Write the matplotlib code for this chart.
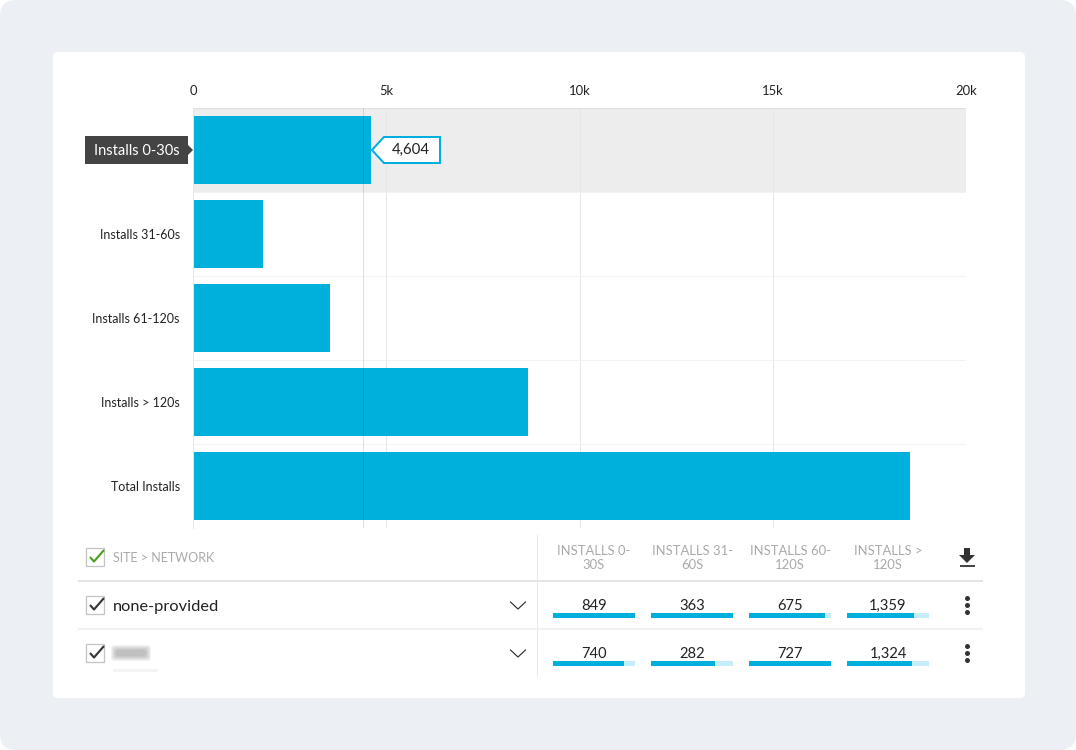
import matplotlib
matplotlib.use("Agg")
import matplotlib.pyplot as plt
from matplotlib.patches import FancyBboxPatch, Rectangle, Polygon

plt.rcParams['font.family'] = ['Lato', 'DejaVu Sans']

categories = ['Installs 0-30s', 'Installs 31-60s', 'Installs 61-120s', 'Installs > 120s', 'Total Installs']
installs = [4604, 1800, 3540, 8670, 18550]
x_ticks = [0, 5000, 10000, 15000, 20000]
x_labels = ['0', '5k', '10k', '15k', '20k']
hover_value = 4390

columns = ['INSTALLS 0-\n30S', 'INSTALLS 31-\n60S', 'INSTALLS 60-\n120S', 'INSTALLS >\n120S']
rows = ['none-provided', '']
row_values = [[849, 363, 675, 1359], [740, 282, 727, 1324]]
column_max = [849, 363, 727, 1670]

BLUE = '#00b0dc'
DARK = '#222222'
W, H = 1076, 750
PX = 0.72  # one pixel in points

fig = plt.figure(figsize=(W / 100, H / 100), dpi=100, facecolor='white')

# page background, in pixels
bg = fig.add_axes([0, 0, 1, 1], zorder=1)
bg.set_xlim(0, W)
bg.set_ylim(H, 0)
bg.axis('off')
bg.add_patch(FancyBboxPatch((0, 0), W, H, boxstyle='round,pad=0,rounding_size=16', fc='#eceff3', ec='none'))
bg.add_patch(FancyBboxPatch((53, 52), 972, 646, boxstyle='round,pad=0,rounding_size=5', fc='white', ec='none'))
# hovered label, under the tick label
bg.add_patch(Polygon([(85, 136), (188, 136), (188, 145), (193, 150), (188, 155), (188, 164), (85, 164)],
                     fc='#444444', ec='none'))

# main chart
ax = fig.add_axes([193 / W, 1 - 528 / H, 773 / W, 420 / H], zorder=2)
ax.patch.set_alpha(0)
ax.set_xlim(0, 20000)
ax.set_ylim(4.5, -0.5)
ax.axhspan(-0.5, 0.5, color='#ededed', lw=0, zorder=0)
for i in range(1, 5):
    ax.axhline(i - 0.5, color='#f3f3f3', lw=PX, zorder=1)
ax.axhline(-0.5, color='#e0e0e0', lw=2 * PX, zorder=1)
ax.grid(axis='x', color='#e6e6e6', lw=PX)
ax.set_axisbelow(True)
ax.barh(range(len(installs)), installs, height=68 / 84, color=BLUE, zorder=2)
ax.axvline(hover_value, color='black', alpha=0.12, lw=PX, zorder=3)
ax.set_xticks(x_ticks, x_labels)
ax.xaxis.tick_top()
ax.tick_params(axis='x', length=0, pad=8, labelsize=9.4, labelcolor=DARK)
ax.set_yticks(range(len(categories)), categories)
ax.tick_params(axis='y', length=0, pad=9.5, labelsize=9, labelcolor=DARK)
for s in ax.spines.values():
    s.set_visible(False)
ax.spines['left'].set_visible(True)
ax.spines['left'].set_color('#e6e6e6')
ax.spines['left'].set_linewidth(PX)
ax.get_yticklabels()[0].set_color('white')
ax.get_yticklabels()[0].set_fontsize(10.5)

# table and callout on top of everything
tb = fig.add_axes([0, 0, 1, 1], zorder=3)
tb.set_xlim(0, W)
tb.set_ylim(H, 0)
tb.axis('off')
tb.patch.set_alpha(0)

tip = 193 + installs[0] / 20000 * 773
tb.add_patch(Polygon([(tip + 1, 150), (tip + 13, 137), (440, 137), (440, 163), (tip + 13, 163)],
                     fc='white', ec=BLUE, lw=2 * PX))
tb.text(411, 150, f'{installs[0]:,}', ha='center', va='center', fontsize=10.8, color=DARK)

tb.plot([78, 983], [580.5, 580.5], color='#e4e4e4', lw=2 * PX, solid_capstyle='butt')
tb.plot([78, 983], [629, 629], color='#ededed', lw=1.5 * PX, solid_capstyle='butt')
tb.plot([536.5, 536.5], [534, 676], color='#e8e8e8', lw=PX, solid_capstyle='butt')


def checkbox(x, y, color):
    tb.add_patch(Rectangle((x, y), 18, 18, fc='white', ec='#c4c4c4', lw=1.3 * PX))
    tb.plot([x + 4, x + 8, x + 18], [y + 9, y + 13.5, y + 2], color=color, lw=1.5, solid_capstyle='butt')


checkbox(86, 548, '#4a9e1c')
tb.text(113, 558.5, 'SITE > NETWORK', fontsize=9, color='#aaaaaa', va='center')

col_x = [553, 651, 749, 847]
col_w = 82
row_y = [605, 653]
for x, label in zip(col_x, columns):
    tb.text(x + col_w / 2, 558, label, fontsize=9.4, color='#aaaaaa', ha='center', va='center', linespacing=1.15)

for y, name, vals in zip(row_y, rows, row_values):
    checkbox(86, y - 9, '#333333')
    tb.text(113, y + 1.5, name, fontsize=11.8, color=DARK, va='center')
    tb.plot([510.5, 518, 525.5], [y - 3, y + 4, y - 3], color='#333333', lw=PX * 1.2)
    for x, v, vmax in zip(col_x, vals, column_max):
        tb.text(x + col_w / 2, y + 1, f'{v:,}', fontsize=10.6, color=DARK, ha='center', va='center')
        tb.add_patch(Rectangle((x, y + 8), col_w, 4.5, fc='#c4eef9', ec='none'))
        tb.add_patch(Rectangle((x, y + 8), col_w * v / vmax, 4.5, fc=BLUE, ec='none'))
    tb.plot([967, 967, 967], [y - 7, y, y + 7], 'o', color='#333333', ms=3.6, mew=0)

# blurred second row name
for i in range(6):
    tb.add_patch(FancyBboxPatch((111 + i, 645 + i), 40 - 2 * i, 16 - 2 * i, boxstyle='round,pad=0,rounding_size=3',
                                fc='#777777', alpha=0.09, ec='none'))
tb.add_patch(Rectangle((113, 669), 45, 3, fc='#f4f4f4', ec='none'))

# download icon
tb.add_patch(Polygon([(964, 548), (970, 548), (970, 555), (975, 555), (967, 563), (959, 555), (964, 555)],
                     fc='#333333', ec='none'))
tb.plot([960, 975], [565.5, 565.5], color='#333333', lw=1.3, solid_capstyle='butt')

fig.savefig('out.png', dpi=100)
